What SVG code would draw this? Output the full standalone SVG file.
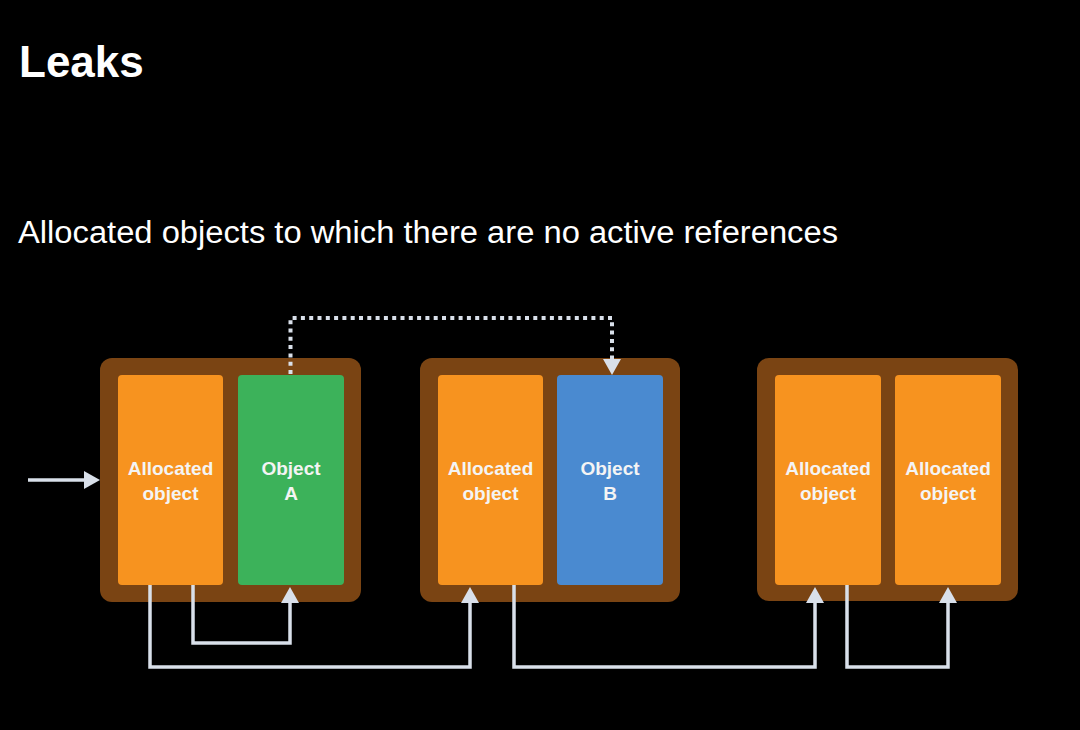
<svg xmlns="http://www.w3.org/2000/svg" width="1080" height="730" viewBox="0 0 1080 730">
<defs>
<style>
.container{fill:#7A4413;}
.orange{fill:#F7931F;}
.green{fill:#3CB25A;}
.blue{fill:#4A8AD0;}
.lbl{font-family:"Liberation Sans",Arial,sans-serif;font-size:19px;font-weight:bold;fill:#F4F4F4;text-anchor:middle;}
.conn{fill:none;stroke:#D9E0EA;stroke-width:3.5;}
.dot{fill:none;stroke:#D9E0EA;stroke-width:4;stroke-dasharray:4 4.3;}
.head{fill:#D9E0EA;}
</style>
</defs>
<rect width="1080" height="730" fill="#000000"/>
<text x="19" y="77" font-family="Liberation Sans,Arial,sans-serif" font-weight="bold" font-size="44" fill="#FFFFFF">Leaks</text>
<text x="18" y="243" font-family="Liberation Sans,Arial,sans-serif" font-size="31" fill="#FFFFFF" textLength="820" lengthAdjust="spacingAndGlyphs">Allocated objects to which there are no active references</text>

<g id="group1">
<rect class="container" x="100" y="358" width="261" height="244" rx="12"/>
</g>
<g id="node-alloc1">
<rect class="orange" x="118" y="375" width="105" height="210" rx="4"/>
<text class="lbl" x="170.5" y="475">Allocated</text>
<text class="lbl" x="170.5" y="500">object</text>
</g>
<g id="node-objA">
<rect class="green" x="238" y="375" width="106" height="210" rx="4"/>
<text class="lbl" x="291" y="475">Object</text>
<text class="lbl" x="291" y="500">A</text>
</g>

<g id="group2">
<rect class="container" x="420" y="358" width="260" height="244" rx="12"/>
</g>
<g id="node-alloc2">
<rect class="orange" x="438" y="375" width="105" height="210" rx="4"/>
<text class="lbl" x="490.5" y="475">Allocated</text>
<text class="lbl" x="490.5" y="500">object</text>
</g>
<g id="node-objB">
<rect class="blue" x="557" y="375" width="106" height="210" rx="4"/>
<text class="lbl" x="610" y="475">Object</text>
<text class="lbl" x="610" y="500">B</text>
</g>

<g id="group3">
<rect class="container" x="757" y="358" width="261" height="243" rx="12"/>
</g>
<g id="node-alloc3">
<rect class="orange" x="775" y="375" width="106" height="210" rx="4"/>
<text class="lbl" x="828" y="475">Allocated</text>
<text class="lbl" x="828" y="500">object</text>
</g>
<g id="node-alloc4">
<rect class="orange" x="895" y="375" width="106" height="210" rx="4"/>
<text class="lbl" x="948" y="475">Allocated</text>
<text class="lbl" x="948" y="500">object</text>
</g>

<g id="connectors">
<line class="conn" x1="28" y1="480" x2="86" y2="480"/>
<polygon class="head" points="100,480 84,471 84,489"/>

<polyline class="dot" points="290.5,374 290.5,318 612,318 612,362"/>
<polygon class="head" points="612,375 603,359 621,359"/>

<polyline class="conn" points="150,585 150,667 470,667 470,602"/>
<polygon class="head" points="470,587 461,603 479,603"/>

<polyline class="conn" points="193,585 193,643 290,643 290,602"/>
<polygon class="head" points="290,587 281,603 299,603"/>

<polyline class="conn" points="514,585 514,667 815,667 815,602"/>
<polygon class="head" points="815,587 806,603 824,603"/>

<polyline class="conn" points="847,585 847,667 948,667 948,602"/>
<polygon class="head" points="948,587 939,603 957,603"/>
</g>
</svg>
